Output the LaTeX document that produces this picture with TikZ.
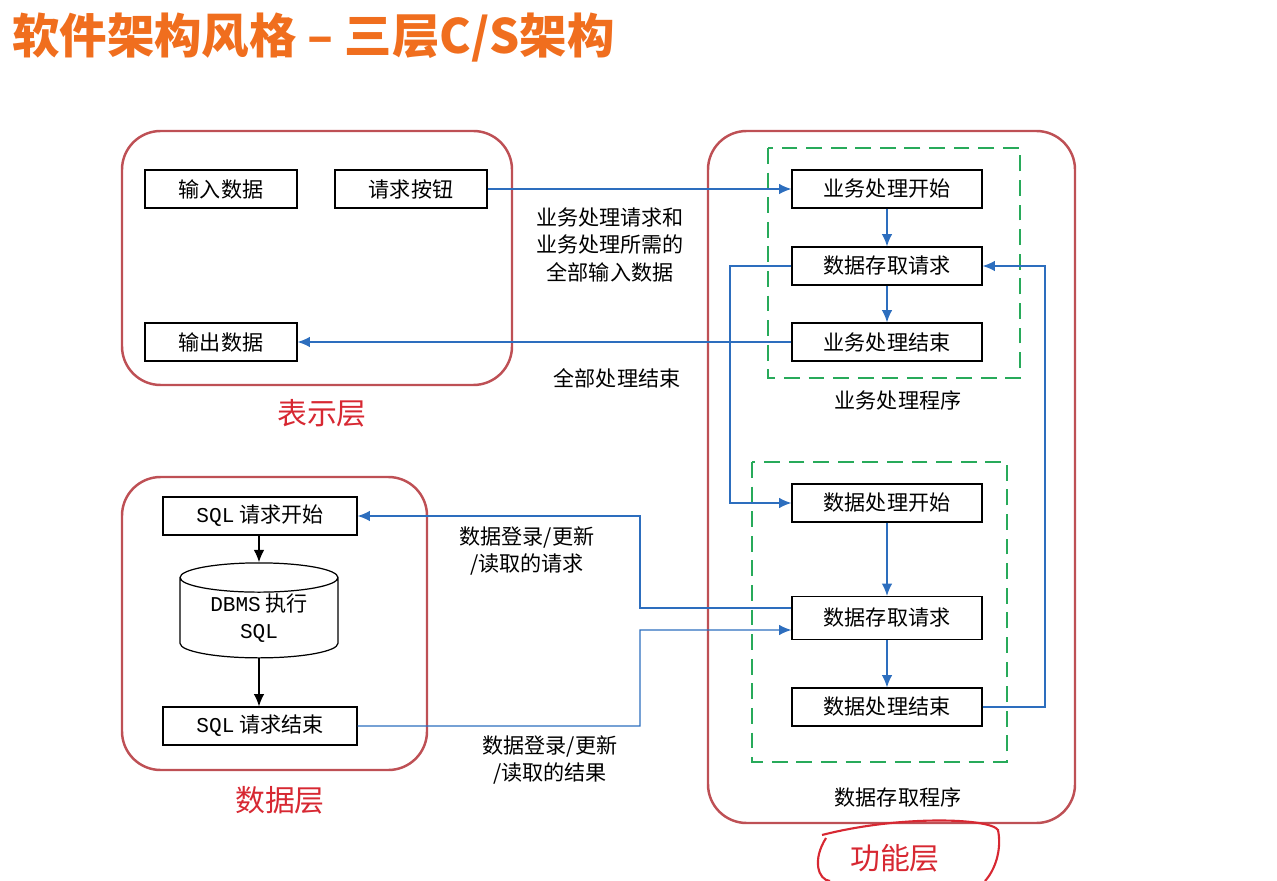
\documentclass[tikz,border=0pt]{standalone}
\usepackage{fontspec}
\setmainfont{Noto Sans CJK SC}
\newfontfamily\monof{Liberation Mono}
\usetikzlibrary{shapes.geometric,arrows.meta}
\definecolor{tit}{RGB}{240,110,30}
\definecolor{lay}{RGB}{190,80,85}
\definecolor{grn}{RGB}{40,170,90}
\definecolor{blu}{RGB}{45,110,190}
\definecolor{lred}{RGB}{215,40,50}
\begin{document}
\begin{tikzpicture}[x=0.02cm,y=-0.02cm,
  layer/.style={draw=lay,line width=1.4pt,rounded corners=22pt},
  grp/.style={draw=grn,line width=1.4pt,dash pattern=on 9pt off 5pt},
  box/.style={draw,line width=0.7pt,minimum width=3.8cm,minimum height=0.76cm,font=\fontsize{12}{13}\selectfont,inner sep=0pt},
  sbox/.style={box,minimum width=3.04cm},
  lbl/.style={font=\fontsize{12}{15.5}\selectfont,align=center},
  laylbl/.style={text=lred,font=\fontsize{17}{19}\selectfont},
  ar/.style={draw=blu,line width=0.8pt,-{Latex[length=7pt,width=6pt]}},
  bar/.style={draw=black,line width=0.8pt,-{Latex[length=7pt,width=6pt]}}]
\useasboundingbox (0,0) rectangle (1277,881);
\node[anchor=west,text=tit,font=\fontsize{27}{30}\selectfont\bfseries] (title) at (6,38) {软件架构风格 – 三层C/S架构};
% layers
\draw[layer] (122,131) rectangle (512,385);
\draw[layer] (708,131) rectangle (1075,823);
\draw[layer] (122,477) rectangle (427,770);
\draw[grp] (768,148) rectangle (1020,378);
\draw[grp] (752,462) rectangle (1007,762);
\node[laylbl] (l1) at (322,413) {表示层};
\node[laylbl] (l2) at (280,800) {数据层};
\node[laylbl] (l3) at (895,858) {功能层};
\draw[lred,line width=1.2pt] (826,838) .. controls (812,860) and (818,880) .. (830,881);
\draw[lred,line width=1.2pt] (822,835) .. controls (900,815) and (990,818) .. (998,830) .. controls (1002,850) and (995,870) .. (985,881);
\node[lbl] (g1) at (898,400) {业务处理程序};
\node[lbl] (g2) at (898,797) {数据存取程序};
% presentation
\node[sbox] (in) at (221,189) {输入数据};
\node[sbox] (btn) at (411,189) {请求按钮};
\node[sbox] (out) at (221,342) {输出数据};
% function
\node[box] (b1) at (887,189) {业务处理开始};
\node[box] (b2) at (887,266) {数据存取请求};
\node[box] (b3) at (887,342) {业务处理结束};
\node[box] (d1) at (887,503) {数据处理开始};
\node[box,minimum height=0.86cm] (d2) at (887,618) {数据存取请求};
\node[box] (d3) at (887,707) {数据处理结束};
% data
\node[box,minimum width=3.88cm] (s1) at (260,516) {{\monof SQL} 请求开始};
\node[box,minimum width=3.88cm] (s2) at (260,726) {{\monof SQL} 请求结束};
\node[draw,line width=0.7pt,cylinder,shape border rotate=90,aspect=0.3,minimum width=3.16cm,minimum height=1.9cm,align=center,font=\fontsize{12}{15.5}\selectfont,inner sep=0pt] (db) at (259,618) {{\monof DBMS} 执行\\{\monof SQL}};
\draw[bar] (s1.south -| db.north) -- (db.north);
\draw[bar] (db.south) -- (db.south |- s2.north);
% arrows
\draw[ar] (btn.east) -- (b1.west);
\node[lbl] (t1) at (610,245) {业务处理请求和\\业务处理所需的\\全部输入数据};
\draw[ar] (b3.west) -- (out.east);
\node[lbl] (t2) at (617,378) {全部处理结束};
\draw[ar] (b1) -- (b2);
\draw[ar] (b2) -- (b3);
\draw[ar] (b2.west) -- (730,266) |- (d1.west);
\draw[ar] (d1) -- (d2);
\draw[ar] (d2) -- (d3);
\draw[ar] ([yshift=0.2cm]d2.west) -| (640,516) -- (s1.east);
\node[lbl] (t3) at (527,551) {数据登录/更新\\/读取的请求};
\draw[ar] (s2.east) -| (640,630) -- ([yshift=-0.24cm]d2.west);
\node[lbl] (t4) at (550,760) {数据登录/更新\\/读取的结果};
\draw[ar] (d3.east) -| (1045,266) -- (b2.east);
\end{tikzpicture}
\end{document}
